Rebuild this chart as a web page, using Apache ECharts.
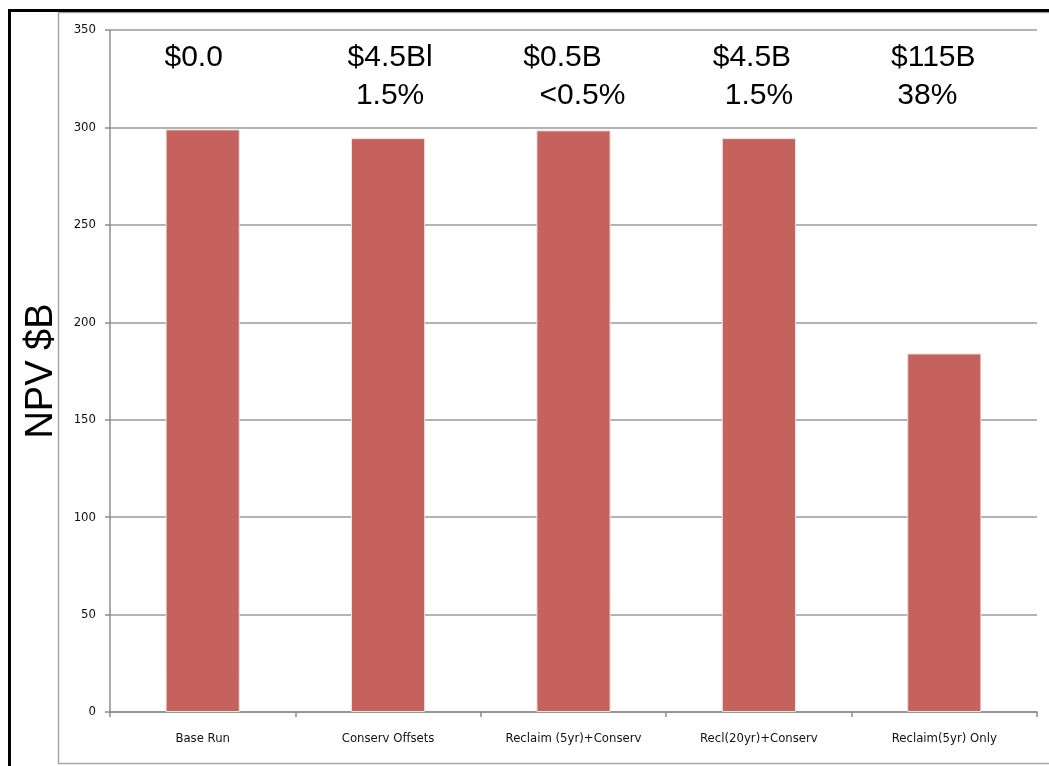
<!DOCTYPE html>
<html>
<head>
<meta charset="utf-8">
<title>NPV $B</title>
<script src="https://cdn.jsdelivr.net/npm/echarts@6/dist/echarts.min.js"></script>
<style>
  html, body { margin: 0; padding: 0; background: #ffffff; }
  #chart { width: 1049px; height: 766px; }
</style>
</head>
<body>
<div id="chart"></div>
<script>
// Scenario names along the x axis
const categories = ['Base Run', 'Conserv Offsets', 'Reclaim (5yr)+Conserv', 'Recl(20yr)+Conserv', 'Reclaim(5yr) Only'];
// Net present value per scenario, $B
const npvValues = [299, 294.5, 298.5, 294.5, 184];
// Value-axis ticks
const yMin = 0, yMax = 350, yStep = 50;
// Loss against the base run, printed above each bar
const lossAmount = ['$0.0', '$4.5Bl', '$0.5B', '$4.5B', '$115B'];
const lossShare = ['', '1.5%', '<0.5%', '1.5%', '38%'];
// Heights (in axis units) at which the two annotation rows sit
const amountRowLevel = 336;
const shareRowLevel = 316.5;

// Horizontal nudges of the annotation text relative to each category centre
const amountShift = [-9, 2, -11, -7, -11];
const shareShift = [0, 2, 9, 0, -17];

const annotFont = {
  fontFamily: 'Liberation Sans, Arial, sans-serif',
  fontSize: 30,
  color: '#000000',
  opacity: 1,
  textBorderWidth: 0
};

function annotRow(texts, level, shifts) {
  return texts.map((t, i) => ({
    value: [i, level],
    label: { show: t !== '', formatter: t, offset: [shifts[i], 0] }
  }));
}

function annotSeries(name, texts, level, shifts) {
  return {
    name: name,
    type: 'scatter',
    symbolSize: 0,
    silent: true,
    z: 5,
    itemStyle: { opacity: 1 },
    data: annotRow(texts, level, shifts),
    label: Object.assign({ position: 'inside' }, annotFont)
  };
}

const chart = echarts.init(document.getElementById('chart'), null, { renderer: 'canvas' });
chart.setOption({
  backgroundColor: '#ffffff',
  animation: false,
  graphic: [
    // outer black rules along the top and left edge
    { type: 'rect', shape: { x: 8, y: 9, width: 1041, height: 3 }, style: { fill: '#000000' }, silent: true, z: 10 },
    { type: 'rect', shape: { x: 8, y: 9, width: 3, height: 757 }, style: { fill: '#000000' }, silent: true, z: 10 },
    // grey chart-area frame
    { type: 'rect', shape: { x: 58.5, y: 12.5, width: 1000, height: 751 }, style: { fill: 'none', stroke: '#a6a6a6', lineWidth: 1.5 }, silent: true, z: 0 }
  ],
  grid: { left: 110, right: 12, top: 30, bottom: 54, containLabel: false },
  xAxis: {
    type: 'category',
    data: categories,
    boundaryGap: true,
    axisLine: { show: true, lineStyle: { color: '#8c8c8c', width: 1.5 } },
    axisTick: { show: true, alignWithLabel: false, length: 5, lineStyle: { color: '#8c8c8c', width: 1.5 } },
    axisLabel: { color: '#111111', fontSize: 13, fontFamily: 'Liberation Sans Narrow, DejaVu Sans Condensed, sans-serif', margin: 20 },
    splitLine: { show: false }
  },
  yAxis: {
    type: 'value',
    min: yMin, max: yMax, interval: yStep,
    name: 'NPV $B',
    nameLocation: 'middle',
    nameRotate: 90,
    nameGap: 49,
    nameTextStyle: { fontFamily: 'Liberation Sans, Arial, sans-serif', fontSize: 38, color: '#000000' },
    axisLine: { show: true, lineStyle: { color: '#8c8c8c', width: 1.5 } },
    axisTick: { show: true, length: 5, lineStyle: { color: '#8c8c8c', width: 1.5 } },
    axisLabel: { color: '#111111', fontSize: 13, fontFamily: 'Liberation Sans Narrow, DejaVu Sans Condensed, sans-serif', margin: 14 },
    splitLine: { show: true, lineStyle: { color: '#9a9a9a', width: 1.5 } }
  },
  series: [
    {
      name: 'NPV',
      type: 'bar',
      data: npvValues,
      barWidth: '40%',
      itemStyle: { color: '#c6625e', borderColor: '#e9e4e4', borderWidth: 1 }
    },
    annotSeries('amount', lossAmount, amountRowLevel, amountShift),
    annotSeries('share', lossShare, shareRowLevel, shareShift)
  ]
});
</script>
</body>
</html>
